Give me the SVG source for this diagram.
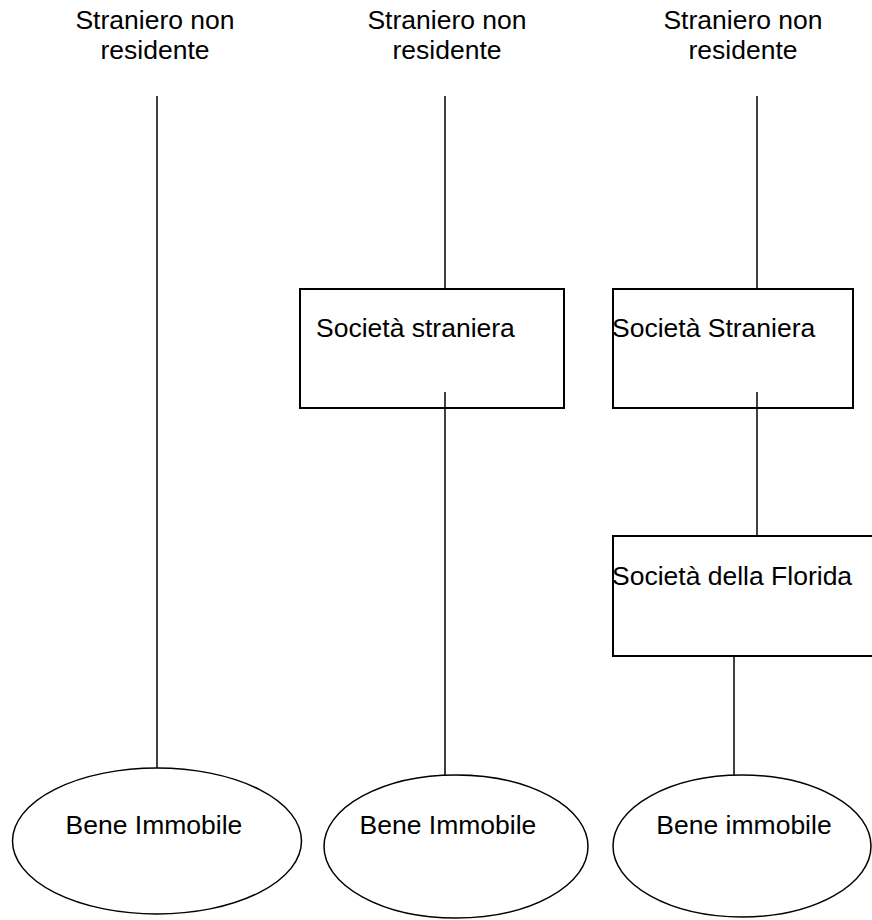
<svg xmlns="http://www.w3.org/2000/svg" width="872" height="920" viewBox="0 0 872 920">
<style>
text{font-family:"Liberation Sans",Arial,sans-serif;font-size:26.5px;fill:#000}
.c{text-anchor:middle}
.box{fill:#fff;stroke:#000;stroke-width:2}
.ell{fill:#fff;stroke:#000;stroke-width:1.5}
.ln{stroke:#000;stroke-width:1.5;fill:none}
</style>
<rect width="872" height="920" fill="#fff"/>
<g id="connectors">
<line class="ln" x1="157" y1="96" x2="157" y2="768"/>
<line class="ln" x1="445" y1="96" x2="445" y2="289"/>
<line class="ln" x1="445" y1="392" x2="445" y2="775"/>
<line class="ln" x1="757" y1="96" x2="757" y2="289"/>
<line class="ln" x1="757" y1="392" x2="757" y2="536"/>
<line class="ln" x1="734" y1="654" x2="734" y2="775"/>
</g>
<g id="top1"><text class="c" x="155" y="29">Straniero non</text><text class="c" x="155" y="59">residente</text></g>
<g id="top2"><text class="c" x="447" y="29">Straniero non</text><text class="c" x="447" y="59">residente</text></g>
<g id="top3"><text class="c" x="743" y="29">Straniero non</text><text class="c" x="743" y="59">residente</text></g>
<g id="box2"><rect class="box" x="300" y="289" width="264" height="119"/><line class="ln" x1="445" y1="392" x2="445" y2="408"/><text x="316" y="337">Società straniera</text></g>
<g id="box3"><rect class="box" x="613" y="289" width="240" height="119"/><line class="ln" x1="757" y1="392" x2="757" y2="408"/><text x="612" y="337">Società Straniera</text></g>
<g id="box4"><rect class="box" x="613" y="536" width="270" height="120"/><text x="612" y="585">Società della Florida</text></g>
<g id="ell1"><ellipse class="ell" cx="157" cy="841" rx="144.5" ry="73"/><text class="c" x="154" y="834">Bene Immobile</text></g>
<g id="ell2"><ellipse class="ell" cx="456" cy="846.5" rx="132" ry="71.5"/><text class="c" x="448" y="834">Bene Immobile</text></g>
<g id="ell3"><ellipse class="ell" cx="742" cy="846" rx="129" ry="71"/><text class="c" x="744" y="834">Bene immobile</text></g>
</svg>
